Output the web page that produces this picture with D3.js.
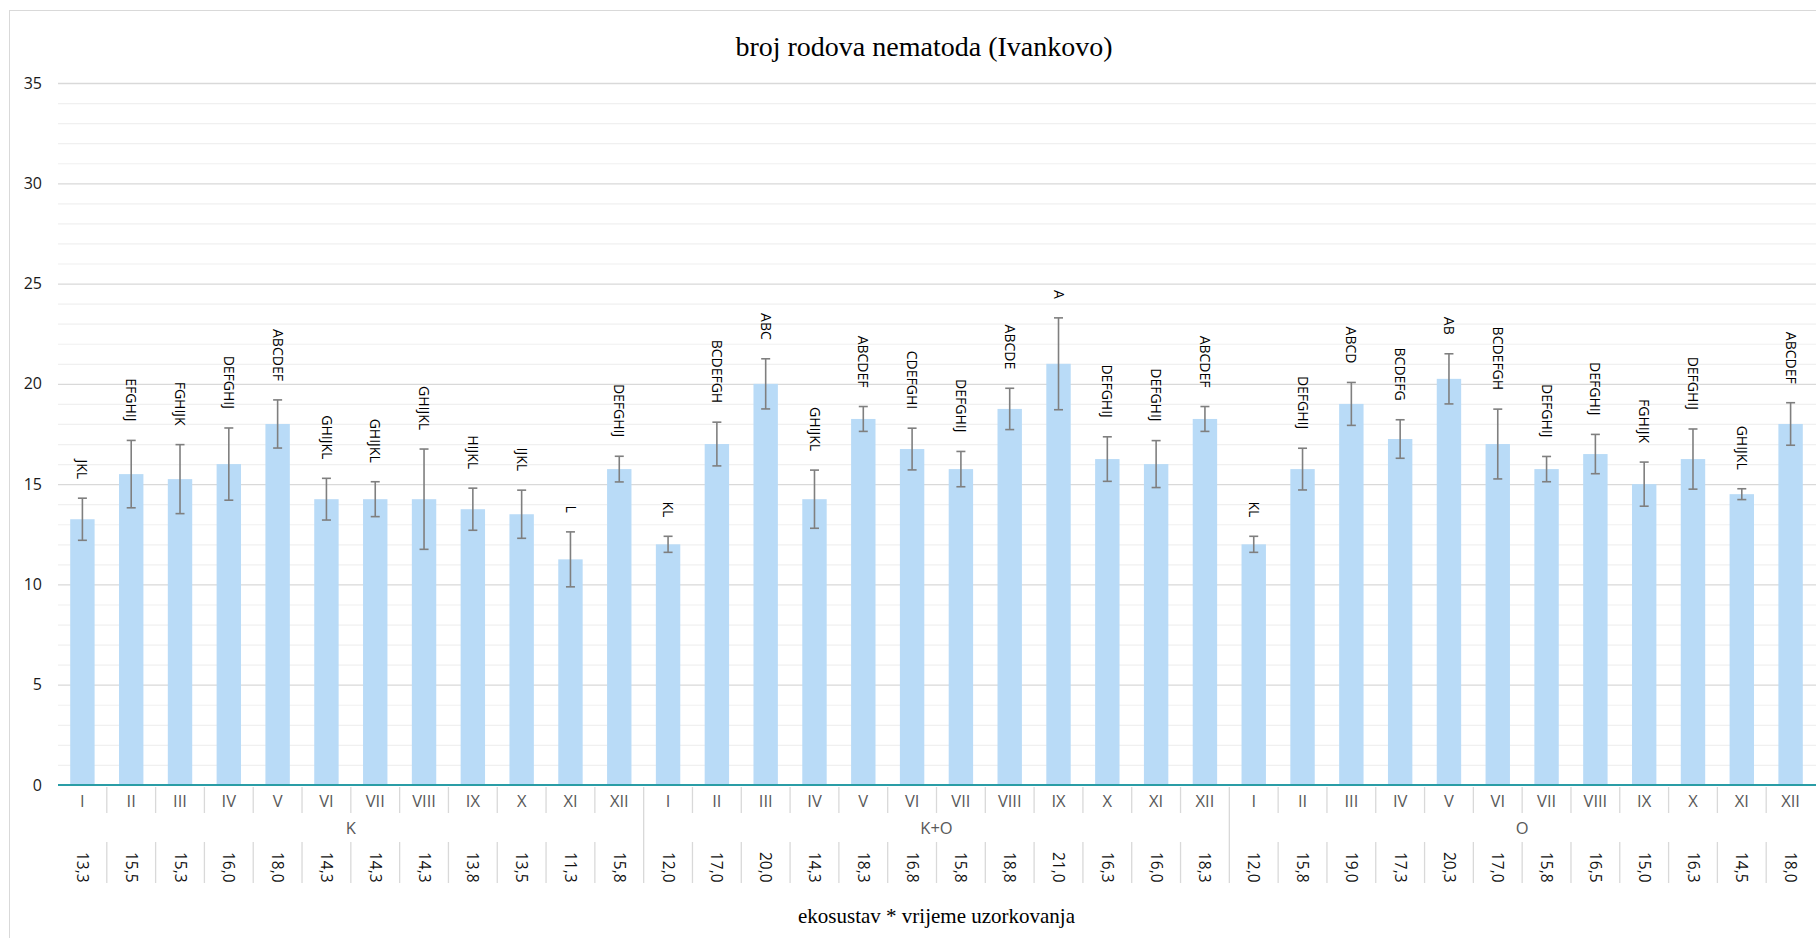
<!DOCTYPE html>
<html lang="hr">
<head>
<meta charset="utf-8">
<title>broj rodova nematoda (Ivankovo)</title>
<script src="https://d3js.org/d3.v7.min.js"></script>
<style>
body{
  margin:0;
  background:#fff;
}
.lbl{
  font-family:"Open Sans",sans-serif;
}
.ttl{
  font-family:"Liberation Serif","Times New Roman",serif;
  fill:#000;
}
</style>
</head>
<body>
<div id="chart"></div>
<script>
// categories
const months = ["I","II","III","IV","V","VI","VII","VIII","IX","X","XI","XII"];
const groups = ["K","K+O","O"];

// mean per ekosustav (shown rounded in the table row)
const meanK  = [13.25, 15.5, 15.25, 16.0, 18.0, 14.25, 14.25, 14.25, 13.75, 13.5, 11.25, 15.75];
const meanKO = [12.0, 17.0, 20.0, 14.25, 18.25, 16.75, 15.75, 18.75, 21.0, 16.25, 16.0, 18.25];
const meanO  = [12.0, 15.75, 19.0, 17.25, 20.25, 17.0, 15.75, 16.5, 15.0, 16.25, 14.5, 18.0];

// error bar (+/-)
const errK  = [1.05, 1.68, 1.72, 1.8, 1.2, 1.04, 0.87, 2.5, 1.05, 1.2, 1.37, 0.64];
const errKO = [0.4, 1.09, 1.25, 1.45, 0.62, 1.04, 0.88, 1.03, 2.29, 1.11, 1.17, 0.62];
const errO  = [0.4, 1.04, 1.07, 0.96, 1.25, 1.74, 0.63, 0.98, 1.1, 1.5, 0.27, 1.06];

// letters (significance groups)
const letK  = ["JKL","EFGHIJ","FGHIJK","DEFGHIJ","ABCDEF","GHIJKL","GHIJKL","GHIJKL","HIJKL","IJKL","L","DEFGHIJ"];
const letKO = ["KL","BCDEFGH","ABC","GHIJKL","ABCDEF","CDEFGHI","DEFGHIJ","ABCDE","A","DEFGHIJ","DEFGHIJ","ABCDEF"];
const letO  = ["KL","DEFGHIJ","ABCD","BCDEFG","AB","BCDEFGH","DEFGHIJ","DEFGHIJ","FGHIJK","DEFGHIJ","GHIJKL","ABCDEF"];

const yTicks = [0,5,10,15,20,25,30,35];

const W = 1816, H = 938;
const left = 58, right = 1815, y0 = 785, yTop = 83;

// flat table built from the arrays
const means = [meanK, meanKO, meanO], errs = [errK, errKO, errO], lets = [letK, letKO, letO];
const data = [];
groups.forEach(function(g, gi){
  months.forEach(function(m, mi){
    data.push({key: g + "|" + m, group: g, month: m, v: means[gi][mi], e: errs[gi][mi], t: lets[gi][mi]});
  });
});

const svg = d3.select("#chart").append("svg")
  .attr("width", W).attr("height", H);

// chart area border (runs past right/bottom edge like the original crop)
svg.append("rect")
  .attr("x", 9.5).attr("y", 10.5)
  .attr("width", W + 20).attr("height", H + 20)
  .attr("fill", "#fff").attr("stroke", "#d9d9d9");

const x = d3.scaleBand()
  .domain(data.map(d => d.key))
  .range([left, right])
  .paddingInner(0.5).paddingOuter(0.25);

const y = d3.scaleLinear().domain([0, 35]).range([y0, yTop]);

const gap = (x.step() - x.bandwidth()) / 2;
const edge = d => x(d) - gap;   // left boundary of a category

// minor gridlines
svg.append("g")
  .attr("transform", "translate(" + left + ",0)")
  .call(d3.axisLeft(y).tickValues(d3.range(1, 36).filter(v => v % 5 != 0)).tickSize(-(W - left)).tickFormat(""))
  .call(g => g.select(".domain").remove())
  .call(g => g.selectAll("line").attr("stroke", "#f0f0f0").attr("stroke-width", 1.2));

// major gridlines
svg.append("g")
  .attr("transform", "translate(" + left + ",0)")
  .call(d3.axisLeft(y).tickValues(yTicks.slice(1)).tickSize(-(W - left)).tickFormat(""))
  .call(g => g.select(".domain").remove())
  .call(g => g.selectAll("line").attr("stroke", "#d9d9d9").attr("stroke-width", 1.3));

// y labels
svg.append("g")
  .attr("class", "lbl")
  .attr("transform", "translate(" + (left - 16) + ",0)")
  .call(d3.axisLeft(y).tickValues(yTicks).tickSize(0).tickPadding(0))
  .call(g => g.select(".domain").remove())
  .call(g => g.selectAll("text").attr("font-family", "'Open Sans',sans-serif").attr("font-size", 16).attr("fill", "#1a1a1a"));

// bars
svg.append("g").selectAll("rect")
  .data(data).join("rect")
  .attr("x", d => x(d.key))
  .attr("y", d => y(d.v))
  .attr("width", x.bandwidth())
  .attr("height", d => y0 - y(d.v))
  .attr("fill", "#b9dbf7");

// error bars
const eb = svg.append("g").attr("stroke", "#7f7f7f").attr("stroke-width", 1.6).attr("fill", "none");
data.forEach(function(d){
  const cx = x(d.key) + x.bandwidth() / 2;
  eb.append("line").attr("x1", cx).attr("x2", cx).attr("y1", y(d.v + d.e)).attr("y2", y(d.v - d.e));
  eb.append("line").attr("x1", cx - 4.5).attr("x2", cx + 4.5).attr("y1", y(d.v + d.e)).attr("y2", y(d.v + d.e));
  eb.append("line").attr("x1", cx - 4.5).attr("x2", cx + 4.5).attr("y1", y(d.v - d.e)).attr("y2", y(d.v - d.e));
});

// letter labels, rotated, above the error bars
svg.append("g").selectAll("text")
  .data(data).join("text")
  .attr("class", "lbl")
  .attr("transform", d => "translate(" + (x(d.key) + x.bandwidth() / 2) + "," + (y(d.v + d.e) - 19) + ") rotate(90)")
  .attr("text-anchor", "end")
  .attr("dy", "0.35em")
  .attr("font-size", 14)
  .attr("fill", "#000")
  .text(d => d.t);

// baseline
svg.append("line")
  .attr("x1", left).attr("x2", W).attr("y1", y0).attr("y2", y0)
  .attr("stroke", "#2a9da6").attr("stroke-width", 1.8);

// month labels
svg.append("g")
  .attr("class", "lbl")
  .attr("transform", "translate(0," + 792 + ")")
  .call(d3.axisBottom(x).tickSize(0).tickFormat(k => k.split("|")[1]))
  .call(g => g.select(".domain").remove())
  .call(g => g.selectAll("text").attr("font-family", "'Open Sans',sans-serif").attr("font-size", 16.5).attr("fill", "#595959"));

// separators
const sep = svg.append("g").attr("stroke", "#d9d9d9").attr("stroke-width", 1.3);
data.forEach(function(d, i){
  if (i == 0) return;
  const xx = edge(d.key);
  if (d.month == "I") {
    sep.append("line").attr("x1", xx).attr("x2", xx).attr("y1", y0 + 2).attr("y2", 883);
  } else {
    sep.append("line").attr("x1", xx).attr("x2", xx).attr("y1", y0 + 2).attr("y2", 813);
    sep.append("line").attr("x1", xx).attr("x2", xx).attr("y1", 842).attr("y2", 883);
  }
});

// group labels
svg.append("g").selectAll("text")
  .data(groups).join("text")
  .attr("class", "lbl")
  .attr("x", g => (edge(g + "|I") + edge(g + "|XII") + x.step()) / 2)
  .attr("y", 834)
  .attr("text-anchor", "middle")
  .attr("font-size", 16.5)
  .attr("fill", "#595959")
  .text(g => g);

// value row (rotated)
svg.append("g").selectAll("text")
  .data(data).join("text")
  .attr("class", "lbl")
  .attr("transform", d => "translate(" + (x(d.key) + x.bandwidth() / 2) + ",852) rotate(90)")
  .attr("text-anchor", "start")
  .attr("dy", "0.35em")
  .attr("font-size", 15.5)
  .attr("fill", "#111")
  .text(d => d.v.toFixed(1).replace(".", ","));

// titles
svg.append("text")
  .attr("class", "ttl")
  .attr("x", 924).attr("y", 56)
  .attr("text-anchor", "middle")
  .attr("font-size", 28)
  .text("broj rodova nematoda (Ivankovo)");

svg.append("text")
  .attr("class", "ttl")
  .attr("x", (left + right) / 2).attr("y", 923)
  .attr("text-anchor", "middle")
  .attr("font-size", 21)
  .text("ekosustav * vrijeme uzorkovanja");
</script>
</body>
</html>
